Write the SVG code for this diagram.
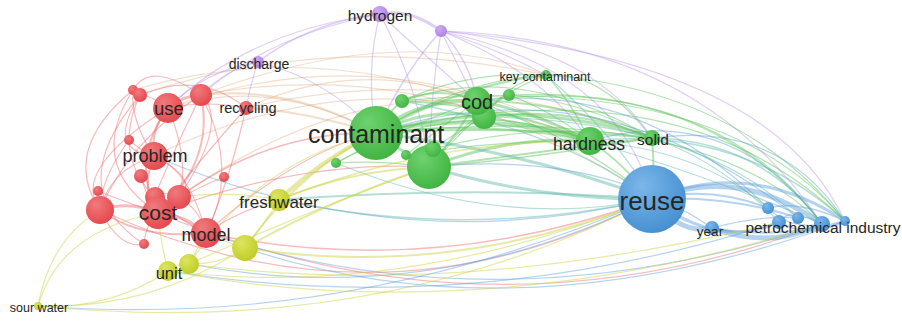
<svg xmlns="http://www.w3.org/2000/svg" width="902" height="322" viewBox="0 0 902 322">
<defs>
<radialGradient id="gr" cx="0.4" cy="0.35" r="0.7" fx="0.35" fy="0.3"><stop offset="0" stop-color="#f07b7e"/><stop offset="1" stop-color="#e4464b"/></radialGradient>
<radialGradient id="gg" cx="0.4" cy="0.35" r="0.7" fx="0.35" fy="0.3"><stop offset="0" stop-color="#6fd26f"/><stop offset="1" stop-color="#3fb340"/></radialGradient>
<radialGradient id="gb" cx="0.4" cy="0.35" r="0.7" fx="0.35" fy="0.3"><stop offset="0" stop-color="#7bb7ea"/><stop offset="1" stop-color="#448ecf"/></radialGradient>
<radialGradient id="gy" cx="0.4" cy="0.35" r="0.7" fx="0.35" fy="0.3"><stop offset="0" stop-color="#dde65e"/><stop offset="1" stop-color="#bfcb25"/></radialGradient>
<radialGradient id="gp" cx="0.4" cy="0.35" r="0.7" fx="0.35" fy="0.3"><stop offset="0" stop-color="#cfaaf3"/><stop offset="1" stop-color="#ad7fe3"/></radialGradient>
</defs>
<style>
path{fill:none;stroke-linecap:round;stroke-width:1.2}
.r{stroke:#ec6a6c;stroke-opacity:.45}
.g{stroke:#55c255;stroke-opacity:.45}
.b{stroke:#5a9ed9;stroke-opacity:.45}
.t{stroke:#5bb9a4;stroke-opacity:.45}
.y{stroke:#cdd64a;stroke-opacity:.5}
.p{stroke:#b995e6;stroke-opacity:.45}
.o{stroke:#d9a070;stroke-opacity:.35}
.nr{fill:url(#gr)}.ng{fill:url(#gg)}.nb{fill:url(#gb)}.ny{fill:url(#gy)}.np{fill:url(#gp)}
text{font-family:"Liberation Sans",Arial,sans-serif;fill:#262626;text-anchor:middle}
</style>
<rect width="902" height="322" fill="#fff"/>
<g id="connectors">
<!-- red internal -->
<path class="r" style="stroke-width:2" d="M168,108 Q130,160 158,213"/>
<path class="r" style="stroke-width:2" d="M168,108 Q150,130 154,156"/>
<path class="r" style="stroke-width:3" d="M168,108 Q185,95 201,95"/>
<path class="r" d="M168,108 Q150,95 140,95"/>
<path class="r" d="M133,90 Q60,150 100,210"/>
<path class="r" d="M133,90 Q85,165 158,213"/>
<path class="r" d="M140,95 Q100,180 206,233"/>
<path class="r" d="M140,95 Q105,150 154,156"/>
<path class="r" d="M140,95 Q60,190 144,244"/>
<path class="r" d="M168,108 Q70,170 100,210"/>
<path class="r" style="stroke-width:2" d="M201,95 Q215,160 158,213"/>
<path class="r" d="M201,95 Q240,170 206,233"/>
<path class="r" d="M201,95 Q130,140 100,210"/>
<path class="r" style="stroke-width:2" d="M154,156 Q140,190 158,213"/>
<path class="r" d="M154,156 Q110,170 100,210"/>
<path class="r" style="stroke-width:3" d="M100,210 Q130,200 158,213"/>
<path class="r" style="stroke-width:2" d="M100,210 Q140,240 206,233"/>
<path class="r" d="M179,197 Q200,210 206,233"/>
<path class="r" style="stroke-width:3" d="M158,213 Q185,215 206,233"/>
<path class="r" d="M155,197 Q167,190 179,197"/>
<path class="r" d="M246,108 Q200,160 158,213"/>
<path class="r" d="M246,108 Q205,100 168,108"/>
<path class="r" d="M224,177 Q190,190 158,213"/>
<path class="r" d="M141,176 Q145,195 158,213"/>
<path class="r" d="M144,244 Q145,225 158,213"/>
<path class="r" d="M129,140 Q140,150 154,156"/>
<path class="r" d="M98,191 Q95,200 100,210"/>
<path class="r" d="M201,95 Q150,60 133,90"/>
<path class="r" d="M246,108 Q230,180 206,233"/>
<path class="r" d="M179,197 Q230,120 201,95"/>
<path class="r" d="M201,95 Q160,180 155,197"/>
<path class="r" d="M168,108 Q190,160 179,197"/>
<path class="r" d="M154,156 Q190,170 206,233"/>
<path class="r" d="M133,90 Q130,120 154,156"/>
<path class="r" d="M140,95 Q200,70 246,108"/>
<path class="r" d="M100,210 Q120,250 144,244"/>
<path class="r" d="M158,213 Q120,200 98,191"/>
<path class="r" d="M154,156 Q200,180 179,197"/>
<path class="r" d="M129,140 Q100,180 100,210"/>
<!-- red outward -->
<path class="o" d="M168,108 Q270,75 376,133"/>
<path class="o" style="stroke-width:2" d="M201,95 Q290,85 376,133"/>
<path class="o" d="M246,108 Q360,55 477,101"/>
<path class="r" style="stroke-width:1.5" d="M158,213 Q260,130 376,133"/>
<path class="o" d="M154,156 Q370,50 590,141"/>
<path class="o" d="M168,108 Q380,30 590,141"/>
<path class="o" d="M201,95 Q440,50 652,199"/>
<path class="r" style="stroke-width:1.5" d="M206,233 Q430,280 652,199"/>
<path class="r" d="M100,210 Q380,340 652,199"/>
<path class="r" d="M158,213 Q490,350 822,224"/>
<path class="r" d="M158,213 Q300,160 429,167"/>
<path class="r" d="M206,233 Q300,150 376,133"/>
<path class="o" d="M179,197 Q330,90 477,101"/>
<path class="o" style="stroke-width:2" d="M246,108 Q300,110 376,133"/>
<path class="r" d="M206,233 Q240,210 279,200"/>
<path class="o" d="M201,95 Q400,20 546,75"/>
<path class="o" d="M246,108 Q450,60 652,138"/>
<path class="o" d="M133,90 Q300,40 477,101"/>
<path class="o" d="M140,95 Q330,30 546,75"/>
<!-- purple -->
<path class="p" style="stroke-width:3" d="M380,14 Q410,8 441,31"/>
<path class="p" style="stroke-width:1.5" d="M380,14 Q310,22 258,62"/>
<path class="p" d="M380,14 Q270,35 201,95"/>
<path class="p" d="M380,14 Q250,30 168,108"/>
<path class="p" d="M380,14 Q365,70 376,133"/>
<path class="p" d="M380,14 Q420,90 429,167"/>
<path class="p" d="M380,14 Q430,60 477,101"/>
<path class="p" style="stroke-width:1.5" d="M441,31 Q405,70 376,133"/>
<path class="p" style="stroke-width:1.5" d="M441,31 Q470,60 477,101"/>
<path class="p" d="M441,31 Q540,70 590,141"/>
<path class="p" d="M441,31 Q460,70 484,117"/>
<path class="p" d="M441,31 Q590,45 652,138"/>
<path class="p" d="M441,31 Q620,70 652,199"/>
<path class="p" d="M441,31 Q430,100 429,167"/>
<path class="p" d="M441,31 Q500,50 546,75"/>
<path class="p" d="M441,31 Q770,60 845,221"/>
<path class="p" d="M441,31 Q700,40 822,224"/>
<path class="p" d="M258,62 Q205,70 168,108"/>
<path class="p" d="M258,62 Q250,85 246,108"/>
<path class="p" d="M258,62 Q330,80 376,133"/>
<path class="p" d="M258,62 Q225,70 201,95"/>
<!-- green -->
<path class="g" style="stroke-width:4" d="M376,133 Q480,108 590,141"/>
<path class="g" style="stroke-width:4" d="M376,133 Q420,98 477,101"/>
<path class="g" style="stroke-width:3" d="M376,133 Q520,95 652,138"/>
<path class="g" style="stroke-width:3" d="M376,133 Q400,150 429,167"/>
<path class="g" style="stroke-width:2" d="M376,133 Q390,110 402,101"/>
<path class="g" style="stroke-width:3" d="M376,133 Q430,105 484,117"/>
<path class="g" style="stroke-width:3" d="M429,167 Q510,135 590,141"/>
<path class="g" style="stroke-width:3" d="M477,101 Q530,110 590,141"/>
<path class="g" style="stroke-width:2" d="M484,117 Q570,105 652,138"/>
<path class="g" style="stroke-width:1.5" d="M546,75 Q570,100 590,141"/>
<path class="g" style="stroke-width:2" d="M546,75 Q460,85 376,133"/>
<path class="g" d="M546,75 Q740,90 845,221"/>
<path class="g" d="M509,95 Q720,85 822,224"/>
<path class="t" style="stroke-width:1.5" d="M590,141 Q740,125 845,221"/>
<path class="t" style="stroke-width:1.5" d="M652,138 Q760,140 822,224"/>
<path class="t" d="M652,138 Q720,160 779,222"/>
<path class="t" d="M590,141 Q700,150 768,208"/>
<path class="g" style="stroke-width:2" d="M402,101 Q440,85 477,101"/>
<path class="g" style="stroke-width:2" d="M429,167 Q460,130 477,101"/>
<path class="g" style="stroke-width:2" d="M429,167 Q550,150 652,138"/>
<path class="g" d="M376,133 Q680,60 845,221"/>
<path class="g" d="M477,101 Q700,70 822,224"/>
<path class="g" d="M546,75 Q600,70 652,138"/>
<path class="g" d="M509,95 Q480,110 429,167"/>
<path class="g" d="M406,155 Q500,140 590,141"/>
<path class="g" d="M433,149 Q540,120 652,138"/>
<path class="g" style="stroke-width:2" d="M590,141 Q620,160 652,199"/>
<path class="g" style="stroke-width:2" d="M652,138 Q655,170 652,199"/>
<path class="g" d="M477,101 Q580,140 652,199"/>
<path class="g" d="M336,163 Q460,90 590,141"/>
<path class="g" d="M402,101 Q520,60 652,138"/>
<path class="g" d="M546,75 Q510,80 484,117"/>
<path class="g" d="M336,163 Q380,160 429,167"/>
<path class="g" style="stroke-width:2" d="M376,133 Q490,120 590,141"/>
<path class="g" style="stroke-width:2" d="M376,133 Q500,125 652,138"/>
<path class="g" style="stroke-width:2" d="M402,101 Q500,105 590,141"/>
<path class="g" style="stroke-width:1.5" d="M429,167 Q520,160 652,138"/>
<path class="g" style="stroke-width:2" d="M477,101 Q560,100 652,138"/>
<path class="g" style="stroke-width:2" d="M484,117 Q540,125 590,141"/>
<path class="g" d="M509,95 Q550,110 590,141"/>
<path class="g" d="M509,95 Q580,100 652,138"/>
<path class="g" d="M376,133 Q460,80 546,75"/>
<path class="g" d="M429,167 Q480,100 546,75"/>
<path class="g" d="M402,101 Q470,70 546,75"/>
<path class="g" d="M336,163 Q420,120 477,101"/>
<path class="g" d="M406,155 Q450,120 477,101"/>
<path class="g" d="M433,149 Q460,130 484,117"/>
<path class="g" d="M376,133 Q700,100 822,224"/>
<path class="g" d="M402,101 Q720,70 845,221"/>
<path class="t" d="M590,141 Q720,180 822,224"/>
<path class="t" d="M484,117 Q700,120 798,218"/>
<!-- teal -->
<path class="t" style="stroke-width:3" d="M376,133 Q520,150 652,199"/>
<path class="t" style="stroke-width:3" d="M429,167 Q540,200 652,199"/>
<path class="t" style="stroke-width:1.5" d="M402,101 Q560,130 652,199"/>
<path class="t" d="M546,75 Q620,140 652,199"/>
<path class="t" style="stroke-width:2" d="M279,200 Q470,185 652,199"/>
<path class="t" d="M652,199 Q500,230 336,163"/>
<path class="t" style="stroke-width:1.5" d="M652,199 Q470,240 279,200"/>
<!-- blue -->
<path class="b" style="stroke-width:5" d="M652,199 Q740,165 822,224"/>
<path class="b" style="stroke-width:3" d="M652,199 Q750,158 845,221"/>
<path class="b" style="stroke-width:5" d="M652,199 Q680,235 712,228"/>
<path class="b" style="stroke-width:5" d="M712,228 Q770,250 822,224"/>
<path class="b" style="stroke-width:3" d="M652,199 Q720,250 779,222"/>
<path class="b" style="stroke-width:2" d="M652,199 Q710,185 768,208"/>
<path class="b" style="stroke-width:2" d="M652,199 Q730,195 798,218"/>
<path class="b" style="stroke-width:1.5" d="M768,208 Q800,200 845,221"/>
<path class="b" style="stroke-width:1.5" d="M779,222 Q810,240 845,221"/>
<path class="b" d="M768,208 Q790,230 822,224"/>
<path class="b" d="M712,228 Q760,215 798,218"/>
<path class="b" d="M779,222 Q790,210 798,218"/>
<path class="b" d="M798,218 Q810,215 822,224"/>
<path class="b" style="stroke-width:2" d="M712,228 Q780,240 845,221"/>
<path class="b" d="M652,199 Q350,330 38,306"/>
<path class="b" d="M822,224 Q500,330 206,233"/>
<path class="b" d="M845,221 Q520,340 245,248"/>
<path class="b" d="M779,222 Q470,320 168,271"/>
<path class="b" d="M652,199 Q430,310 189,264"/>
<path class="b" d="M652,199 Q400,260 154,156"/>
<path class="b" d="M822,224 Q730,100 590,141"/>
<path class="b" d="M768,208 Q640,80 477,101"/>
<path class="b" d="M845,221 Q780,120 652,138"/>
<path class="b" d="M798,218 Q600,60 376,133"/>
<path class="b" d="M712,228 Q600,150 429,167"/>
<!-- yellow -->
<path class="y" style="stroke-width:4" d="M376,133 Q320,160 279,200"/>
<path class="y" style="stroke-width:2" d="M429,167 Q350,170 279,200"/>
<path class="y" style="stroke-width:1.5" d="M38,306 Q110,310 168,271"/>
<path class="y" d="M38,306 Q150,310 245,248"/>
<path class="y" d="M38,306 Q380,340 652,199"/>
<path class="y" d="M38,306 Q60,230 158,213"/>
<path class="y" d="M38,306 Q50,240 100,210"/>
<path class="y" style="stroke-width:2" d="M245,248 Q300,170 376,133"/>
<path class="y" style="stroke-width:2" d="M245,248 Q450,280 652,199"/>
<path class="y" style="stroke-width:2" d="M245,248 Q330,200 429,167"/>
<path class="y" style="stroke-width:1.5" d="M279,200 Q430,140 590,141"/>
<path class="y" d="M189,264 Q310,210 429,167"/>
<path class="y" d="M168,271 Q480,330 822,224"/>
<path class="y" d="M245,248 Q220,240 206,233"/>
<path class="y" d="M189,264 Q200,245 206,233"/>
<path class="y" d="M168,271 Q160,240 158,213"/>
<path class="y" d="M279,200 Q230,190 179,197"/>
<path class="y" d="M189,264 Q175,265 168,271"/>
<path class="y" d="M245,248 Q220,265 189,264"/>
<path class="y" d="M279,200 Q260,230 245,248"/>
<path class="y" d="M168,271 Q400,300 652,199"/>
<path class="y" d="M189,264 Q460,300 779,222"/>
<path class="y" d="M189,264 Q260,160 376,133"/>
</g>
<!-- unlabeled nodes -->
<g id="n-r2"><circle class="nr" cx="201" cy="95" r="11"/></g>
<g id="n-r3"><circle class="nr" cx="133" cy="90" r="5"/></g>
<g id="n-r4"><circle class="nr" cx="140" cy="95" r="7"/></g>
<g id="n-r6"><circle class="nr" cx="129" cy="140" r="5"/></g>
<g id="n-r8"><circle class="nr" cx="141" cy="176" r="7"/></g>
<g id="n-r9"><circle class="nr" cx="224" cy="177" r="5"/></g>
<g id="n-r10"><circle class="nr" cx="98" cy="191" r="5"/></g>
<g id="n-r11"><circle class="nr" cx="100" cy="210" r="14"/></g>
<g id="n-r12"><circle class="nr" cx="155" cy="197" r="10"/></g>
<g id="n-r13"><circle class="nr" cx="179" cy="197" r="12"/></g>
<g id="n-r16"><circle class="nr" cx="144" cy="244" r="5"/></g>
<g id="n-y2"><circle class="ny" cx="245" cy="248" r="13"/></g>
<g id="n-y3"><circle class="ny" cx="189" cy="264" r="10"/></g>
<g id="n-p3"><circle class="np" cx="441" cy="31" r="6"/></g>
<g id="n-g2"><circle class="ng" cx="402" cy="101" r="7"/></g>
<g id="n-g4"><circle class="ng" cx="484" cy="117" r="12"/></g>
<g id="n-g5"><circle class="ng" cx="509" cy="95" r="6"/></g>
<g id="n-g7"><circle class="ng" cx="429" cy="167" r="22"/></g>
<g id="n-g8"><circle class="ng" cx="433" cy="149" r="8"/></g>
<g id="n-g9"><circle class="ng" cx="406" cy="155" r="5"/></g>
<g id="n-g10"><circle class="ng" cx="336" cy="163" r="5"/></g>
<g id="n-b3"><circle class="nb" cx="768" cy="208" r="6"/></g>
<g id="n-b4"><circle class="nb" cx="779" cy="222" r="7"/></g>
<g id="n-b5"><circle class="nb" cx="798" cy="218" r="6"/></g>
<g id="n-b6"><circle class="nb" cx="822" cy="224" r="8"/></g>
<g id="n-b7"><circle class="nb" cx="845" cy="221" r="5"/></g>
<!-- labeled nodes -->
<g id="n-use"><circle class="nr" cx="168" cy="108" r="15"/><text x="169" y="115" font-size="18.5">use</text></g>
<g id="n-recycling"><circle class="nr" cx="246" cy="108" r="7"/><text x="248" y="113" font-size="14.5">recycling</text></g>
<g id="n-problem"><circle class="nr" cx="154" cy="156" r="14"/><text x="155" y="162" font-size="18">problem</text></g>
<g id="n-cost"><circle class="nr" cx="158" cy="213" r="16"/><text x="158" y="220" font-size="21">cost</text></g>
<g id="n-model"><circle class="nr" cx="206" cy="233" r="15"/><text x="206" y="241" font-size="18">model</text></g>
<g id="n-freshwater"><circle class="ny" cx="279" cy="200" r="11"/><text x="279" y="208" font-size="17">freshwater</text></g>
<g id="n-unit"><circle class="ny" cx="168" cy="271" r="10"/><text x="169" y="279" font-size="16.5">unit</text></g>
<g id="n-sourwater"><circle class="ny" cx="38" cy="306" r="4"/><text x="39" y="312" font-size="12.5">sour water</text></g>
<g id="n-discharge"><circle class="np" cx="258" cy="62" r="6"/><text x="259" y="69" font-size="14">discharge</text></g>
<g id="n-hydrogen"><circle class="np" cx="380" cy="14" r="8"/><text x="380" y="21" font-size="15.5">hydrogen</text></g>
<g id="n-contaminant"><circle class="ng" cx="376" cy="133" r="27"/><text x="376" y="143" font-size="25">contaminant</text></g>
<g id="n-cod"><circle class="ng" cx="477" cy="101" r="14"/><text x="477" y="109" font-size="20">cod</text></g>
<g id="n-keycontaminant"><circle class="ng" cx="546" cy="75" r="5"/><text x="545" y="81" font-size="12.5">key contaminant</text></g>
<g id="n-hardness"><circle class="ng" cx="590" cy="141" r="14"/><text x="589" y="150" font-size="17.5">hardness</text></g>
<g id="n-solid"><circle class="ng" cx="652" cy="138" r="8"/><text x="653" y="145" font-size="15.5">solid</text></g>
<g id="n-reuse"><circle class="nb" cx="652" cy="199" r="34"/><text x="652" y="210" font-size="26">reuse</text></g>
<g id="n-year"><circle class="nb" cx="712" cy="228" r="7"/><text x="710" y="236" font-size="13.5">year</text></g>
<g id="n-petrochemical"><text x="823" y="233" font-size="15.5">petrochemical industry</text></g>
</svg>
